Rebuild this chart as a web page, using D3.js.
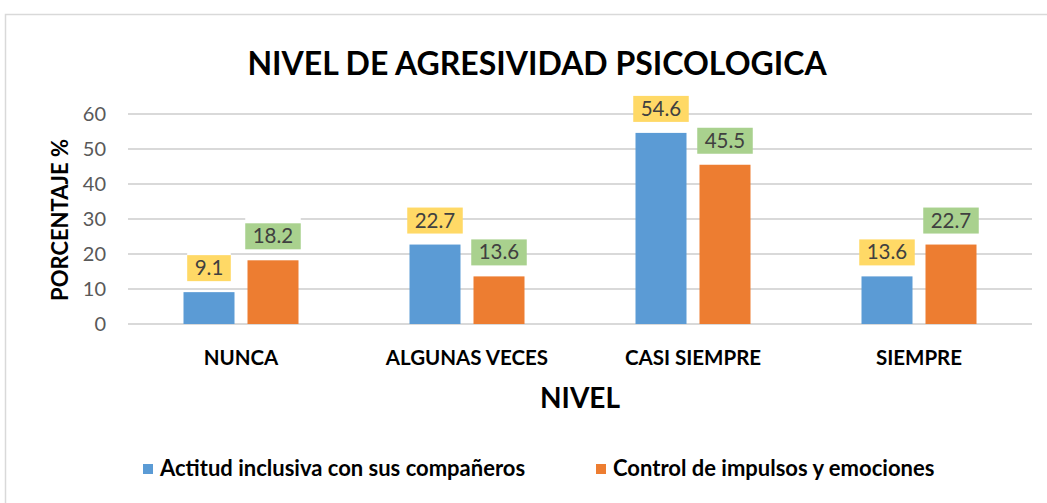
<!DOCTYPE html>
<html>
<head>
<meta charset="utf-8">
<script src="https://cdn.jsdelivr.net/npm/d3@7"></script>
<style>
  body { margin: 0; background: #fff; }
  text { font-family: Lato, "Open Sans", sans-serif; }
</style>
</head>
<body>
<div id="chart"></div>
<script>
// Chart data
var categories = ["NUNCA", "ALGUNAS VECES", "CASI SIEMPRE", "SIEMPRE"];
var seriesNames = ["Actitud inclusiva con sus compañeros", "Control de impulsos y emociones"];
var actitudValues = [9.1, 22.7, 54.6, 13.6];
var controlValues = [18.2, 13.6, 45.5, 22.7];
var yTicks = [0, 10, 20, 30, 40, 50, 60];

var svgWidth = 1047;
var svgHeight = 503;
var barColors = ["#5B9BD5", "#ED7D31"];
var labelColors = ["#FFD966", "#A9D18E"];

var svg = d3.select("#chart").append("svg")
    .attr("width", svgWidth)
    .attr("height", svgHeight);

// Outer chart border
svg.append("rect")
    .attr("x", 5.5).attr("y", 14.5)
    .attr("width", 1060).attr("height", 520)
    .attr("fill", "#fff")
    .attr("stroke", "#d9d9d9")
    .attr("stroke-width", 1.5);

// Plot area
var plot = { left: 128, right: 1032, top: 114, bottom: 324 };

var x0 = d3.scaleBand()
    .domain(categories)
    .range([plot.left, plot.right])
    .padding(0);

var groupWidth = 115;
var x1 = d3.scaleBand()
    .domain([0, 1])
    .range([0, groupWidth])
    .paddingInner(13 / 64)
    .paddingOuter(0);

var y = d3.scaleLinear()
    .domain([0, 60])
    .range([plot.bottom, plot.top]);

// Gridlines
svg.append("g")
    .selectAll("line")
    .data(yTicks)
    .join("line")
    .attr("x1", plot.left).attr("x2", plot.right)
    .attr("y1", d => y(d)).attr("y2", d => y(d))
    .attr("stroke", "#d9d9d9")
    .attr("stroke-width", 2);

// Y axis labels
var yAxis = d3.axisLeft(y).tickValues(yTicks).tickSize(0).tickPadding(0);
var yAxisG = svg.append("g")
    .attr("transform", "translate(106,0)")
    .call(yAxis);
yAxisG.select(".domain").remove();
yAxisG.selectAll("text")
    .attr("font-size", 20)
    .attr("fill", "#595959")
    .style("font-family", "Lato, sans-serif");

// Y axis title
svg.append("text")
    .attr("transform", "translate(68,220) rotate(-90)")
    .attr("text-anchor", "middle")
    .attr("font-size", 22)
    .attr("font-weight", "bold")
    .attr("fill", "#000")
    .text("PORCENTAJE %");

// Bars
var rows = categories.map((c, i) => ({ cat: c, vals: [actitudValues[i], controlValues[i]] }));
var groupOffset = (x0.bandwidth() - groupWidth) / 2;

var groups = svg.append("g")
    .selectAll("g")
    .data(rows)
    .join("g")
    .attr("transform", d => `translate(${x0(d.cat) + groupOffset},0)`);

groups.selectAll("rect")
    .data(d => d.vals.map((v, s) => ({ v: v, s: s })))
    .join("rect")
    .attr("x", d => x1(d.s))
    .attr("y", d => y(d.v))
    .attr("width", x1.bandwidth())
    .attr("height", d => y(0) - y(d.v))
    .attr("fill", d => barColors[d.s]);

// Data labels with coloured boxes
var labels = groups.selectAll("g.lbl")
    .data(d => d.vals.map((v, s) => ({ v: v, s: s })))
    .join("g")
    .attr("class", "lbl");

labels.each(function(d) {
    var g = d3.select(this);
    var cx = x1(d.s) + x1.bandwidth() / 2;
    var boxBottom = y(d.v) - 11;
    var boxH = 26;
    var t = g.append("text")
        .attr("x", cx)
        .attr("y", boxBottom - 6)
        .attr("text-anchor", "middle")
        .attr("font-size", 20.5)
        .attr("fill", "#404040")
        .text(d3.format(".1f")(d.v));
    var w = t.node().getComputedTextLength() + 15;
    g.insert("rect", "text")
        .attr("x", cx - w / 2).attr("y", boxBottom - boxH - 6)
        .attr("width", w).attr("height", 6)
        .attr("fill", "#fff");
    g.insert("rect", "text")
        .attr("x", cx - w / 2).attr("y", boxBottom - boxH)
        .attr("width", w).attr("height", boxH)
        .attr("fill", labelColors[d.s]);
});

// X axis labels
svg.append("g")
    .selectAll("text")
    .data(categories)
    .join("text")
    .attr("x", d => x0(d) + x0.bandwidth() / 2)
    .attr("y", 365)
    .attr("text-anchor", "middle")
    .attr("font-size", 20.5)
    .attr("font-weight", "bold")
    .attr("fill", "#000")
    .text(d => d);

// X axis title
svg.append("text")
    .attr("x", (plot.left + plot.right) / 2)
    .attr("y", 408)
    .attr("text-anchor", "middle")
    .attr("font-size", 28)
    .attr("font-weight", "bold")
    .attr("fill", "#000")
    .text("NIVEL");

// Chart title
svg.append("text")
    .attr("x", 537)
    .attr("y", 75)
    .attr("text-anchor", "middle")
    .attr("font-size", 32)
    .attr("font-weight", "bold")
    .attr("fill", "#000")
    .text("NIVEL DE AGRESIVIDAD PSICOLOGICA");

// Legend
var legendX = [143, 596];
var legend = svg.append("g")
    .selectAll("g")
    .data(seriesNames)
    .join("g")
    .attr("transform", (d, i) => `translate(${legendX[i]},464)`);
legend.append("rect")
    .attr("width", 10).attr("height", 10)
    .attr("fill", (d, i) => barColors[i]);
legend.append("text")
    .attr("x", 17)
    .attr("y", 12)
    .attr("font-size", 22)
    .attr("font-weight", "bold")
    .attr("fill", "#000")
    .text(d => d);
</script>
</body>
</html>
